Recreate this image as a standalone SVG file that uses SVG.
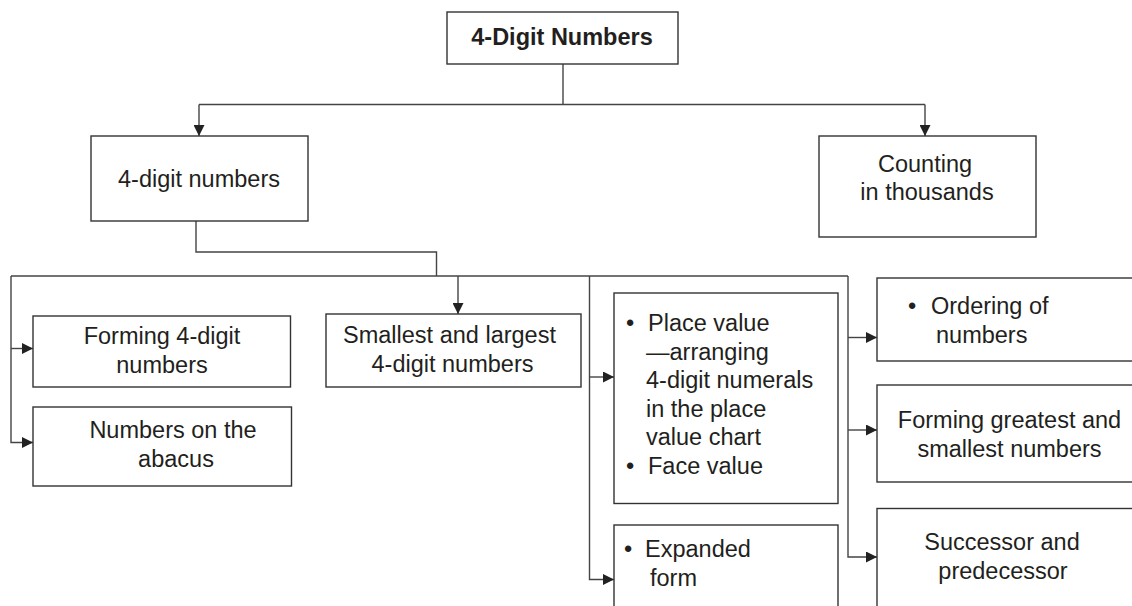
<svg xmlns="http://www.w3.org/2000/svg" width="1132" height="606" viewBox="0 0 1132 606">
<style>
.box{fill:#fff;stroke:#333;stroke-width:1.4}
.ln{fill:none;stroke:#444;stroke-width:1.4}
text{font-family:"Liberation Sans",Arial,Helvetica,sans-serif;font-size:23.5px;fill:#231f20}
.c{text-anchor:middle}
.b{font-weight:bold}
</style>
<defs>
<marker id="ah" markerUnits="userSpaceOnUse" markerWidth="11" markerHeight="11" refX="11" refY="5.5" orient="auto">
<path d="M0,0 L11,5.5 L0,11 z" fill="#222"/>
</marker>
</defs>
<g id="connectors">
<path class="ln" d="M563,64 V104.5"/>
<path class="ln" d="M199,104.5 H925"/>
<path class="ln" d="M199,104.5 V136" marker-end="url(#ah)"/>
<path class="ln" d="M925,104.5 V136" marker-end="url(#ah)"/>
<path class="ln" d="M196,221 V252 H436.5 V276"/>
<path class="ln" d="M11,276 H848"/>
<path class="ln" d="M11,276 V442.5 H33" marker-end="url(#ah)"/>
<path class="ln" d="M11,348.5 H33" marker-end="url(#ah)"/>
<path class="ln" d="M458,276 V314" marker-end="url(#ah)"/>
<path class="ln" d="M589.5,276 V579.5 H614" marker-end="url(#ah)"/>
<path class="ln" d="M589.5,377 H614" marker-end="url(#ah)"/>
<path class="ln" d="M848,276 V557 H877" marker-end="url(#ah)"/>
<path class="ln" d="M848,337.5 H877" marker-end="url(#ah)"/>
<path class="ln" d="M848,430 H877" marker-end="url(#ah)"/>
</g>
<g id="title">
<rect class="box" x="447" y="12" width="231" height="52"/>
<text class="c b" x="562" y="45">4-Digit Numbers</text>
</g>
<g id="four-digit">
<rect class="box" x="91" y="136" width="217" height="85"/>
<text class="c" x="199" y="187">4-digit numbers</text>
</g>
<g id="counting">
<rect class="box" x="819" y="136" width="217" height="101"/>
<text class="c" x="925" y="172">Counting</text>
<text class="c" x="927" y="200">in thousands</text>
</g>
<g id="forming">
<rect class="box" x="33" y="316" width="257.5" height="71"/>
<text class="c" x="162" y="344">Forming 4-digit</text>
<text class="c" x="162" y="373">numbers</text>
</g>
<g id="abacus">
<rect class="box" x="33" y="407" width="258.5" height="79"/>
<text class="c" x="173" y="438">Numbers on the</text>
<text class="c" x="176" y="467">abacus</text>
</g>
<g id="smallest">
<rect class="box" x="326" y="314" width="255" height="73"/>
<text class="c" x="449.5" y="343">Smallest and largest</text>
<text class="c" x="452.5" y="372">4-digit numbers</text>
</g>
<g id="place-value">
<rect class="box" x="614" y="293" width="224" height="210.5"/>
<text class="c" x="630" y="331">•</text>
<text x="648" y="331">Place value</text>
<text x="646" y="359.5">—arranging</text>
<text x="646" y="388">4-digit numerals</text>
<text x="646" y="416.5">in the place</text>
<text x="646" y="445">value chart</text>
<text class="c" x="630" y="473.5">•</text>
<text x="648" y="473.5">Face value</text>
</g>
<g id="expanded">
<rect class="box" x="614" y="525" width="224" height="95"/>
<text class="c" x="628" y="557">•</text>
<text x="645" y="557">Expanded</text>
<text x="650" y="586">form</text>
</g>
<g id="ordering">
<rect class="box" x="877" y="278" width="265" height="83"/>
<text class="c" x="912" y="314">•</text>
<text x="931" y="314">Ordering of</text>
<text x="936" y="343">numbers</text>
</g>
<g id="greatest">
<rect class="box" x="877" y="385" width="265" height="97"/>
<text class="c" x="1009.5" y="428">Forming greatest and</text>
<text class="c" x="1009.5" y="457">smallest numbers</text>
</g>
<g id="successor">
<rect class="box" x="877" y="508.5" width="265" height="110"/>
<text class="c" x="1002" y="550">Successor and</text>
<text class="c" x="1003" y="579">predecessor</text>
</g>
</svg>
